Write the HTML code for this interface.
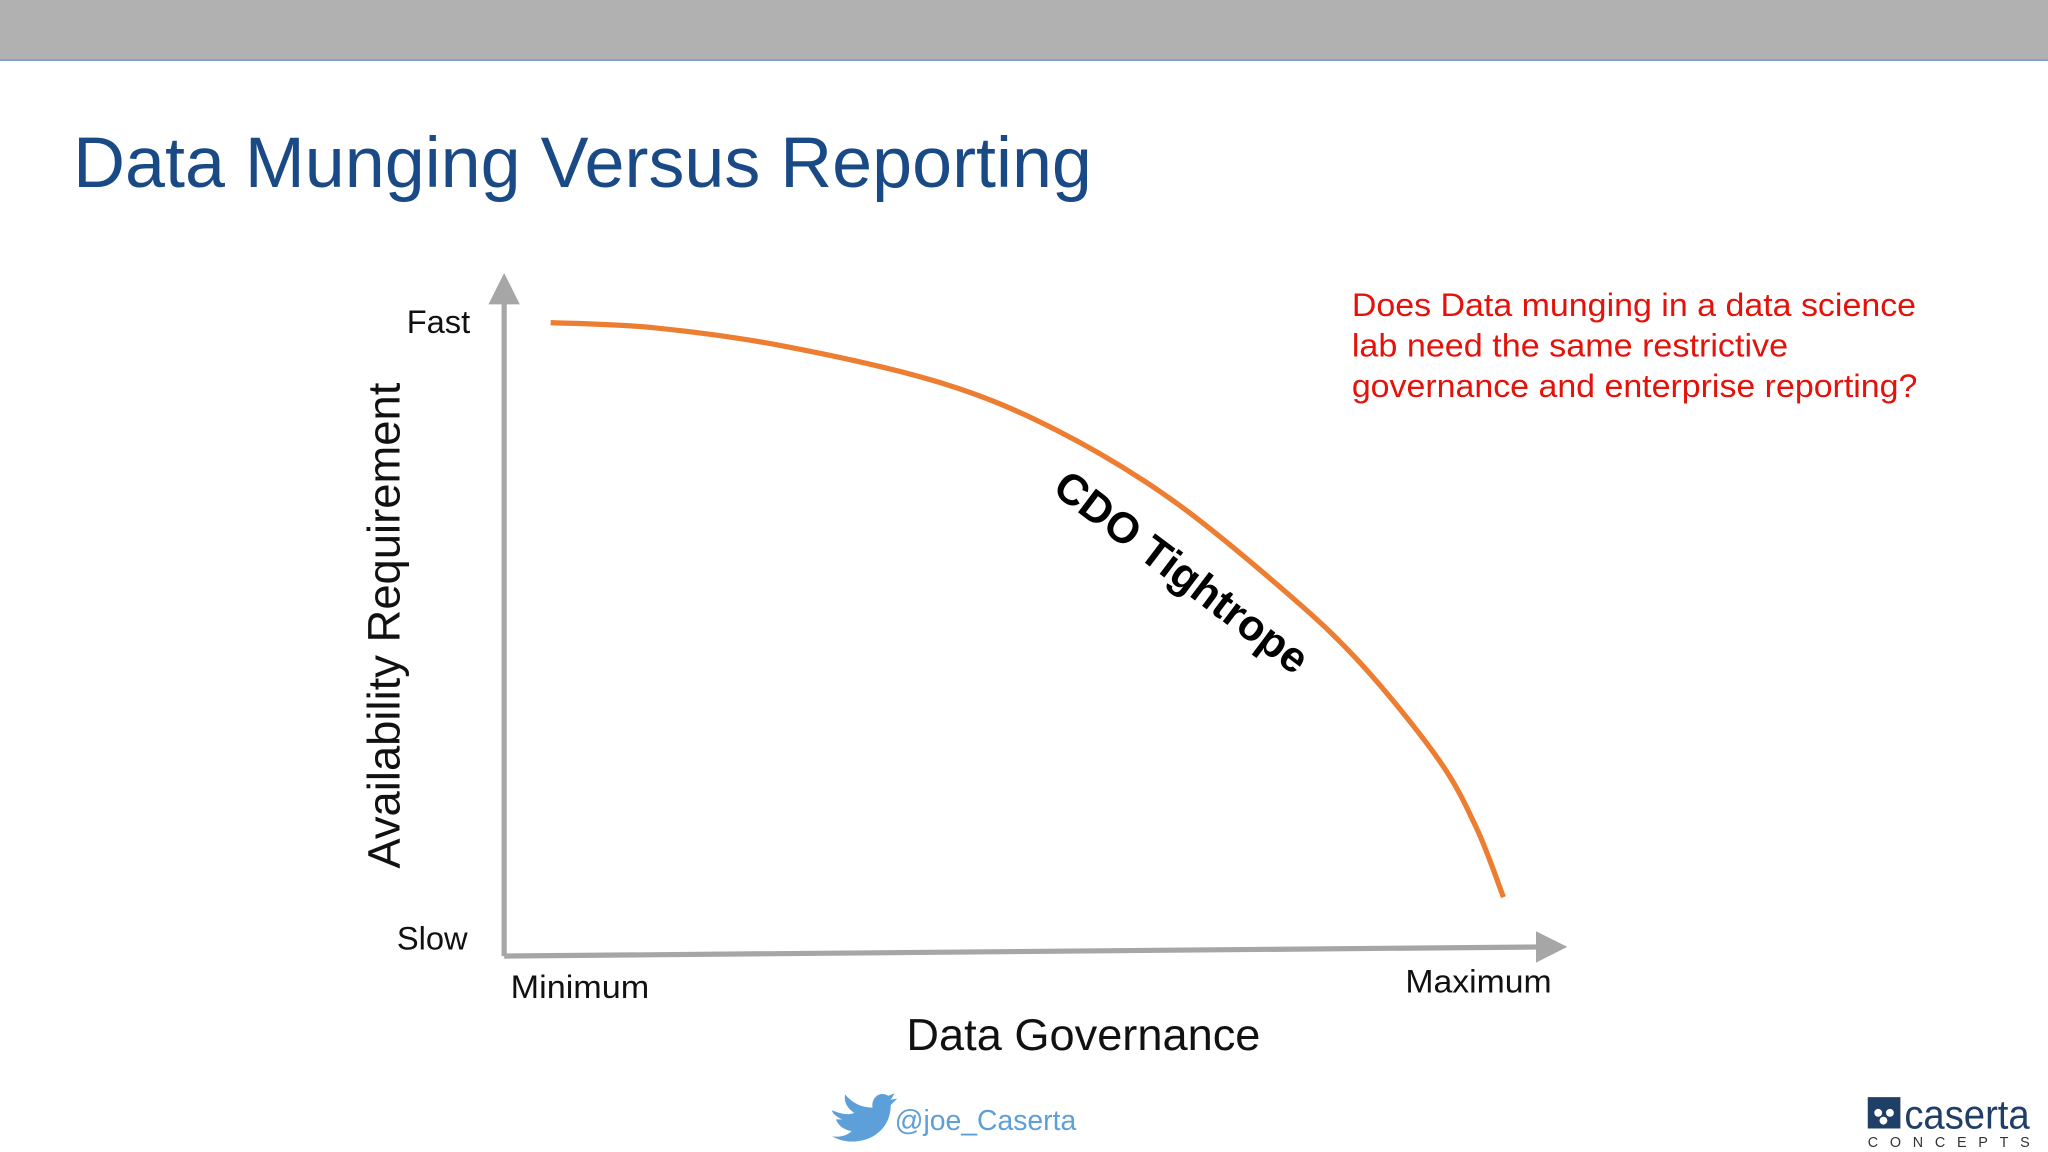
<!DOCTYPE html>
<html><head><meta charset="utf-8"><style>
html,body{margin:0;padding:0;background:#fff;}
svg{display:block;}
text{font-family:"Liberation Sans",sans-serif;}
</style></head><body>
<svg width="2048" height="1152" viewBox="0 0 2048 1152">
<g transform="scale(1.30612)">
  <rect x="0" y="0" width="1568" height="46" fill="#b1b1b1"/>
  <line x1="0" y1="46" x2="1568" y2="46" stroke="#7fa3cf" stroke-width="1.5"/>
  <text x="56" y="143" font-size="55" fill="#1a4a86" textLength="780" lengthAdjust="spacingAndGlyphs">Data Munging Versus Reporting</text>

  <g id="chart">
    <line x1="386" y1="732" x2="386" y2="228" stroke="#a6a6a6" stroke-width="4"/>
    <polygon points="374,233 398,233 386,209" fill="#a6a6a6"/>
    <line x1="386" y1="732" x2="1180" y2="725" stroke="#a6a6a6" stroke-width="4"/>
    <polygon points="1176,713 1176,737 1200,725" fill="#a6a6a6"/>
    <text x="360" y="255" font-size="25" text-anchor="end" fill="#111">Fast</text>
    <text x="358" y="727" font-size="25" text-anchor="end" fill="#111">Slow</text>
    <text x="391" y="764" font-size="25" textLength="106" lengthAdjust="spacingAndGlyphs" fill="#111">Minimum</text>
    <text x="1076" y="760" font-size="25" textLength="112" lengthAdjust="spacingAndGlyphs" fill="#111">Maximum</text>
    <text x="694" y="804" font-size="34" textLength="271" lengthAdjust="spacingAndGlyphs" fill="#111">Data Governance</text>
    <text transform="translate(306,479) rotate(-90)" font-size="35" text-anchor="middle" textLength="372" lengthAdjust="spacingAndGlyphs" fill="#111">Availability Requirement</text>
    <path id="curve" fill="none" stroke="#ed7d31" stroke-width="4"/>
    <text transform="translate(898,447) rotate(37)" font-size="33" font-weight="bold" text-anchor="middle" fill="#000">CDO Tightrope</text>
  </g>

  <g fill="#e3120b" font-size="25">
    <text x="1035" y="242" textLength="432" lengthAdjust="spacingAndGlyphs">Does Data munging in a data science</text>
    <text x="1035" y="273" textLength="334" lengthAdjust="spacingAndGlyphs">lab need the same restrictive</text>
    <text x="1035" y="304" textLength="433" lengthAdjust="spacingAndGlyphs">governance and enterprise reporting?</text>
  </g>

  <g>
    <path d="M645,850 C652,853 658,854 662,852 C656,848 654,843 655,838 C661,845 668,848 676,848 C675,840 682,835 688,839 L693,837 L690,842 L695,841 L690,846 C690,862 678,874 660,874 C654,874 649,872 645,870 C652,871 657,869 660,866 C654,865 650,862 648,857 L653,857 C648,855 645,852 645,850 Z" transform="translate(-8,0)" fill="#5d9fd8"/>
    <text x="685" y="865" font-size="22" textLength="139" lengthAdjust="spacingAndGlyphs" fill="#5d9fd8">@joe_Caserta</text>
  </g>

  <g>
    <rect x="1430" y="840" width="25" height="24" fill="#1f3f66"/>
    <circle cx="1438" cy="852" r="3" fill="#fff"/><circle cx="1447" cy="852" r="3" fill="#fff"/><circle cx="1442" cy="858" r="3" fill="#fff"/>
    <text x="1458" y="864" font-size="31" fill="#1f3f66" textLength="96" lengthAdjust="spacingAndGlyphs">caserta</text>
    <text x="1430" y="878" font-size="11" fill="#333" textLength="124" lengthAdjust="spacing">CONCEPTS</text>
  </g>
</g>
</svg>
<script>
const govValues = [4.5, 14.4, 27.0, 42.2, 53.3, 64.4, 75.4, 82.8, 90.3, 94.0, 96.6];
const availValues = [100, 99.2, 96.3, 90.5, 83.1, 72.2, 57.7, 46.2, 31.1, 20.2, 9.3];
function xScale(v){ return 386 + v * 7.92; }
function yScale(v){ return 732 - v * 4.85; }
(function(){
  const pts = govValues.map((g,i)=>[xScale(g), yScale(availValues[i])]);
  let d = 'M' + pts[0][0] + ',' + pts[0][1];
  for (let i = 0; i < pts.length - 1; i++) {
    const p0 = pts[Math.max(0,i-1)], p1 = pts[i], p2 = pts[i+1], p3 = pts[Math.min(pts.length-1,i+2)];
    const c1x = p1[0] + (p2[0]-p0[0])/6, c1y = p1[1] + (p2[1]-p0[1])/6;
    const c2x = p2[0] - (p3[0]-p1[0])/6, c2y = p2[1] - (p3[1]-p1[1])/6;
    d += ' C' + c1x + ',' + c1y + ' ' + c2x + ',' + c2y + ' ' + p2[0] + ',' + p2[1];
  }
  document.getElementById('curve').setAttribute('d', d);
})();
</script>
</body></html>
